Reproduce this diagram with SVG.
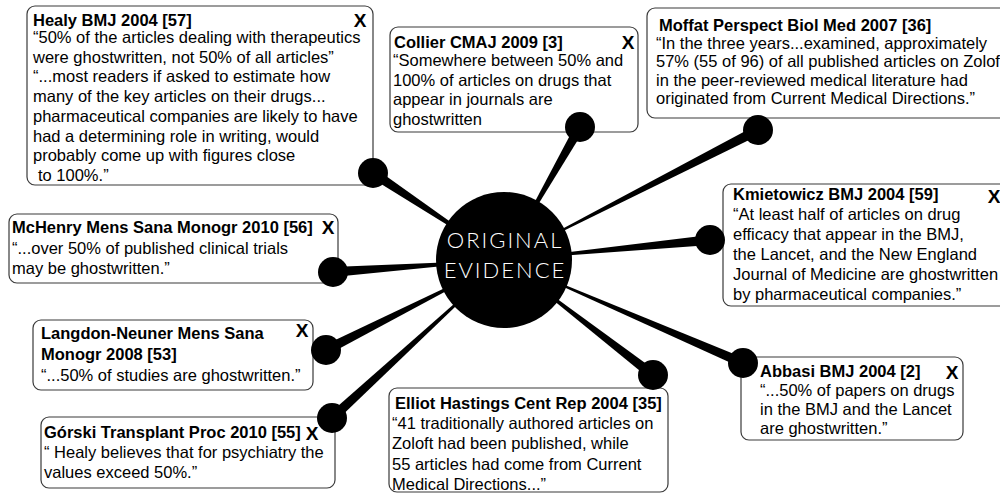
<svg xmlns="http://www.w3.org/2000/svg" width="1000" height="495" viewBox="0 0 1000 495">
<style>
.box{fill:#fff;stroke:#3a3a3a;stroke-width:1.2}
.t{font-family:"Liberation Sans",Arial,sans-serif;font-size:16.5px;fill:#000}
.b{font-weight:bold}
.x{font-family:"Liberation Sans",Arial,sans-serif;font-size:19px;font-weight:bold;fill:#000;text-anchor:middle}
.w{fill:#000}
.c{font-family:Lato,"Liberation Sans",sans-serif;font-weight:300;font-size:22px;fill:#fff;text-anchor:middle;letter-spacing:2px}
</style>
<rect width="1000" height="495" fill="#fff"/>
<g id="healy">
<rect class="box" x="27" y="6" width="346" height="179" rx="8"/>
<text class="t b" x="33" y="26">Healy BMJ 2004 [57]</text>
<text class="x" x="360" y="27">X</text>
<text class="t" x="33" y="43">“50% of the articles dealing with therapeutics</text>
<text class="t" x="33" y="62.7">were ghostwritten, not 50% of all articles”</text>
<text class="t" x="33" y="82.4">“...most readers if asked to estimate how</text>
<text class="t" x="33" y="102.1">many of the key articles on their drugs...</text>
<text class="t" x="33" y="121.8">pharmaceutical companies are likely to have</text>
<text class="t" x="33" y="141.5">had a determining role in writing, would</text>
<text class="t" x="33" y="161.2">probably come up with figures close</text>
<text class="t" x="38" y="180.9">to 100%.”</text>
</g>
<g id="collier">
<rect class="box" x="390" y="27" width="248" height="105" rx="8"/>
<text class="t b" x="394" y="48">Collier CMAJ 2009 [3]</text>
<text class="x" x="628" y="49">X</text>
<text class="t" x="393" y="66">“Somewhere between 50% and</text>
<text class="t" x="393" y="85.5">100% of articles on drugs that</text>
<text class="t" x="393" y="105">appear in journals are</text>
<text class="t" x="393" y="124.5">ghostwritten</text>
</g>
<g id="moffat">
<rect class="box" x="647" y="8" width="363" height="110" rx="8"/>
<text class="t b" x="659" y="31">Moffat Perspect Biol Med 2007 [36]</text>
<text class="t" x="656" y="48.5">“In the three years...examined, approximately</text>
<text class="t" x="656" y="67">57% (55 of 96) of all published articles on Zoloft</text>
<text class="t" x="656" y="85.5">in the peer-reviewed medical literature had</text>
<text class="t" x="656" y="104">originated from Current Medical Directions.”</text>
</g>
<g id="kmietowicz">
<rect class="box" x="723" y="184" width="287" height="122" rx="8"/>
<text class="t b" x="733" y="200">Kmietowicz BMJ 2004 [59]</text>
<text class="x" x="994" y="203">X</text>
<text class="t" x="733" y="220">“At least half of articles on drug</text>
<text class="t" x="733" y="240">efficacy that appear in the BMJ,</text>
<text class="t" x="733" y="260">the Lancet, and the New England</text>
<text class="t" x="733" y="280">Journal of Medicine are ghostwritten</text>
<text class="t" x="733" y="300">by pharmaceutical companies.”</text>
</g>
<g id="mchenry">
<rect class="box" x="9" y="214" width="329" height="69" rx="8"/>
<text class="t b" x="12" y="233">McHenry Mens Sana Monogr 2010 [56]</text>
<text class="x" x="328" y="234">X</text>
<text class="t" x="12" y="254">“...over 50% of published clinical trials</text>
<text class="t" x="12" y="274">may be ghostwritten.”</text>
</g>
<g id="langdon">
<rect class="box" x="33" y="320" width="280" height="70" rx="8"/>
<text class="t b" x="41" y="339">Langdon-Neuner Mens Sana</text>
<text class="x" x="302" y="337">X</text>
<text class="t b" x="41" y="360">Monogr 2008 [53]</text>
<text class="t" x="41" y="381">“...50% of studies are ghostwritten.”</text>
</g>
<g id="gorski">
<rect class="box" x="41" y="417" width="294" height="71" rx="8"/>
<text class="t b" x="44" y="438">Górski Transplant Proc 2010 [55]</text>
<text class="x" x="312" y="440">X</text>
<text class="t" x="44" y="458">“ Healy believes that for psychiatry the</text>
<text class="t" x="44" y="478">values exceed 50%.”</text>
</g>
<g id="elliot">
<rect class="box" x="389" y="388" width="279" height="104" rx="8"/>
<text class="t b" x="395" y="409">Elliot Hastings Cent Rep 2004 [35]</text>
<text class="t" x="392" y="429">“41 traditionally authored articles on</text>
<text class="t" x="392" y="449">Zoloft had been published, while</text>
<text class="t" x="392" y="470">55 articles had come from Current</text>
<text class="t" x="392" y="490">Medical Directions...”</text>
</g>
<g id="abbasi">
<rect class="box" x="741" y="357" width="222" height="83" rx="8"/>
<text class="t b" x="760" y="377">Abbasi BMJ 2004 [2]</text>
<text class="x" x="952" y="379">X</text>
<text class="t" x="760" y="396">“...50% of papers on drugs</text>
<text class="t" x="760" y="415">in the BMJ and the Lancet</text>
<text class="t" x="760" y="434">are ghostwritten.”</text>
</g>
<g id="connectors" class="w">
<polygon points="504,260 375.8,168.8 370.2,177.2"/>
<circle cx="373" cy="173" r="15"/>
<polygon points="504,260 584.3,129.5 575.7,124.5"/>
<circle cx="580" cy="127" r="15"/>
<polygon points="504,260 760.3,134.5 755.7,125.5"/>
<circle cx="758" cy="130" r="15"/>
<polygon points="504,260 710.5,245 709.5,235"/>
<circle cx="710" cy="240" r="15"/>
<polygon points="504,260 741,367.6 745,358.4"/>
<circle cx="743" cy="363" r="15"/>
<polygon points="504,260 649.9,379 656.1,371"/>
<circle cx="653" cy="375" r="15"/>
<polygon points="504,260 328.6,414.3 335.4,421.7"/>
<circle cx="332" cy="418" r="15"/>
<polygon points="504,260 323.7,345.5 328.3,354.5"/>
<circle cx="326" cy="350" r="15"/>
<polygon points="504,260 332.6,267 333.4,277"/>
<circle cx="333" cy="272" r="15"/>
</g>
<g id="center">
<circle cx="504" cy="260" r="68" fill="#000"/>
<text class="c" x="505" y="248">ORIGINAL</text>
<text class="c" x="505" y="278">EVIDENCE</text>
</g>
</svg>
